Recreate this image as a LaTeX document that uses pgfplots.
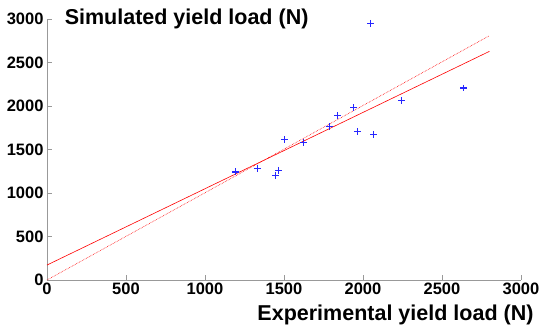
\documentclass[border=0pt]{standalone}
\usepackage{fontspec}
\setmainfont{Liberation Sans}
\usepackage{pgfplots}
\pgfplotsset{compat=1.18}
\definecolor{mblue}{rgb}{0.15,0.15,1}
\begin{document}
\begin{tikzpicture}
\begin{axis}[
  name=ax,
  scale only axis,
  width=474pt, height=261pt,
  xmin=0, xmax=3000, ymin=0, ymax=3000,
  axis lines=left,
  axis line style={-, draw=gray!80},
  tick style={draw=gray!80, line width=0.5pt},
  major tick length=5pt,
  tick align=inside,
  xtick={0,500,...,3000}, ytick={0,500,...,3000},
  /pgf/number format/assume math mode=true,
  /pgf/number format/1000 sep={},
  ticklabel style={font=\fontsize{16.5}{18}\selectfont\bfseries},
  xticklabel style={yshift=1pt},
  xlabel={Experimental yield load (N)},
  ylabel={Simulated yield load (N)},
  xlabel style={font=\fontsize{21.5}{23}\selectfont\bfseries, at={(axis description cs:1,0)}, anchor=north east, xshift=16pt, yshift=-21pt},
  ylabel style={font=\fontsize{21.5}{23}\selectfont\bfseries, rotate=-90, at={(axis description cs:0.030,1)}, anchor=west},
  clip=false,
]
\addplot[red, line width=0.6pt] coordinates {(0,172) (2800,2628)};
\addplot[red, line width=0.6pt, densely dotted] coordinates {(0,0) (2800,2808)};
\addplot[only marks, mark=+, mark size=3.4pt, draw=mblue, mark options={solid, draw=mblue, line width=1.3pt}] coordinates {
(1194,1243) (1331,1285) (1447,1204) (1466,1262) (1504,1611) (1624,1577)
(1787,1761) (1838,1891) (1941,1979) (1964,1707) (2068,1676) (2245,2064)
(2049,2950) (2638,2206)
};
\end{axis}
\path (ax.south west) ++(-47pt,-50pt) rectangle ++(543pt,330pt);
\end{tikzpicture}
\end{document}
